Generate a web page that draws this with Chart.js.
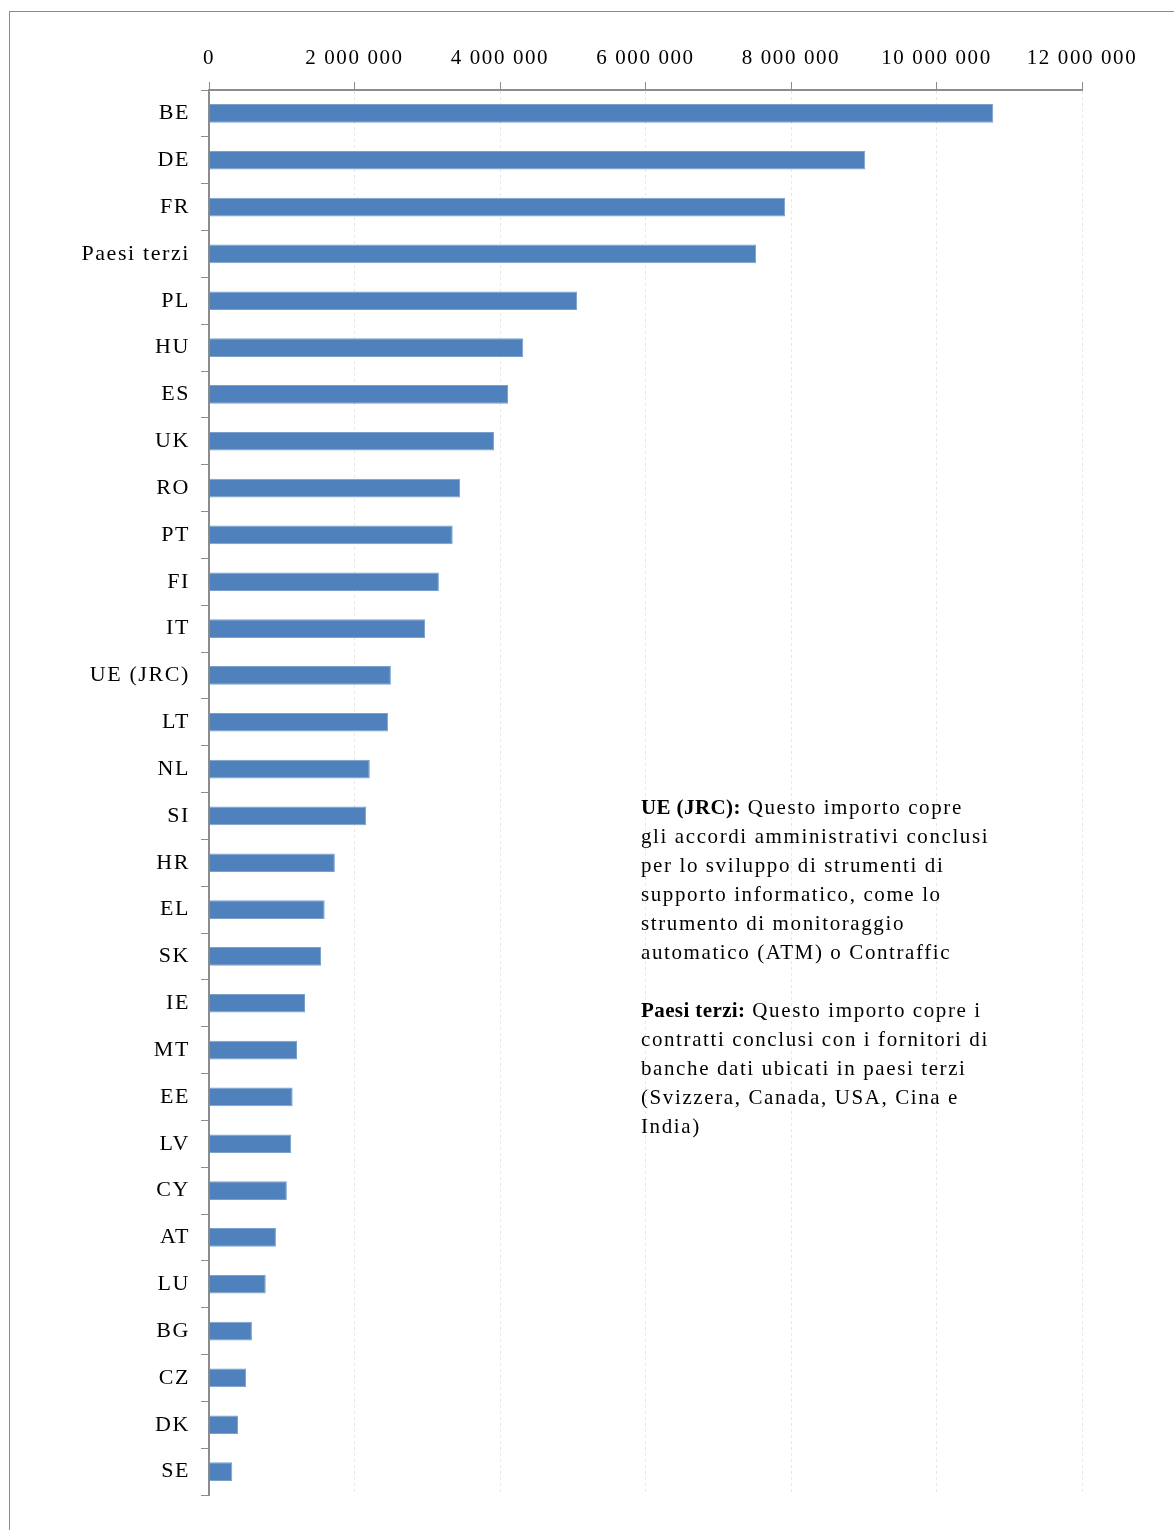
<!DOCTYPE html>
<html>
<head>
<meta charset="utf-8">
<script src="https://cdn.jsdelivr.net/npm/chart.js@4.4.1/dist/chart.umd.min.js"></script>
<style>
  html, body { margin: 0; padding: 0; background: #fff; overflow: hidden; }
  .frame {
    position: absolute; left: 9px; top: 11px; width: 1300px; height: 1700px;
    border: 1px solid #8c8c8c; box-sizing: border-box;
  }
  .chart-box { position: absolute; left: 0; top: 0; width: 1174px; height: 1530px; }
  .note {
    position: absolute; left: 641px; top: 793px; width: 400px;
    font-family: "Liberation Serif", "Times New Roman", serif;
    font-size: 21px; line-height: 29px; color: #000; letter-spacing: 1.6px;
  }
  .note b { letter-spacing: 0.4px; }
  .note p { margin: 0 0 29px 0; }
</style>
</head>
<body>
<div class="frame"></div>
<div class="chart-box"><canvas id="costChart" width="1174" height="1530"></canvas></div>
<div class="note">
  <p><b>UE (JRC):</b> Questo importo copre<br>gli accordi amministrativi conclusi<br>per lo sviluppo di strumenti di<br>supporto informatico, come lo<br>strumento di monitoraggio<br>automatico (ATM) o Contraffic</p>
  <p><b>Paesi terzi:</b> Questo importo copre i<br>contratti conclusi con i fornitori di<br>banche dati ubicati in paesi terzi<br>(Svizzera, Canada, USA, Cina e<br>India)</p>
</div>
<script>
// Categories (top to bottom)
const countries = ['BE', 'DE', 'FR', 'Paesi terzi', 'PL', 'HU', 'ES', 'UK', 'RO', 'PT',
  'FI', 'IT', 'UE (JRC)', 'LT', 'NL', 'SI', 'HR', 'EL', 'SK', 'IE',
  'MT', 'EE', 'LV', 'CY', 'AT', 'LU', 'BG', 'CZ', 'DK', 'SE'];

// Amounts (EUR)
const amounts = [10780000, 9020000, 7920000, 7520000, 5060000, 4320000, 4110000, 3920000, 3450000, 3350000,
  3160000, 2970000, 2500000, 2460000, 2210000, 2160000, 1730000, 1590000, 1540000, 1320000,
  1210000, 1150000, 1130000, 1070000, 920000, 780000, 590000, 510000, 400000, 320000];

// Axis ticks
const xTicks = [0, 2000000, 4000000, 6000000, 8000000, 10000000, 12000000];

function formatNumber(v) {
  return String(v).replace(/\B(?=(\d{3})+(?!\d))/g, ' ');
}

const serif = '"Liberation Serif", "Times New Roman", serif';

// The original text is rendered a bit wider, add some letter spacing
const spacingPlugin = {
  id: 'spacing',
  beforeDraw: function(chart) {
    chart.ctx.letterSpacing = '1.6px';
  }
};

document.addEventListener('DOMContentLoaded', function() {
  const ctx = document.getElementById('costChart').getContext('2d');

  new Chart(ctx, {
    type: 'bar',
    data: {
      labels: countries,
      datasets: [{
        data: amounts,
        backgroundColor: '#4f81bd',
        borderColor: '#7aa0cc',
        borderWidth: 1,
        barPercentage: 0.4,
        categoryPercentage: 1
      }]
    },
    plugins: [spacingPlugin],
    options: {
      indexAxis: 'y',
      responsive: false,
      animation: false,
      layout: {
        padding: { left: 0, top: 0, right: 92, bottom: 35 }
      },
      plugins: {
        legend: { display: false },
        tooltip: { enabled: false }
      },
      scales: {
        x: {
          position: 'top',
          min: 0,
          max: 12000000,
          afterBuildTicks: function(scale) {
            scale.ticks = xTicks.map(function(v) { return { value: v }; });
          },
          afterFit: function(scale) {
            scale.height = 90;
          },
          grid: {
            color: '#ebe7da',
            lineWidth: 1,
            drawTicks: true,
            tickLength: 8,
            tickColor: '#8c8c8c',
            tickBorderDash: []
          },
          border: {
            display: true,
            color: '#8c8c8c',
            width: 2,
            dash: [3, 3]
          },
          ticks: {
            color: '#000',
            padding: 11,
            maxRotation: 0,
            font: { family: serif, size: 21 },
            callback: function(value) { return formatNumber(value); }
          }
        },
        y: {
          afterFit: function(scale) {
            scale.width = 209;
          },
          grid: {
            offset: true,
            drawOnChartArea: false,
            drawTicks: true,
            tickLength: 8,
            tickColor: '#8c8c8c',
            color: '#8c8c8c'
          },
          border: {
            display: true,
            color: '#8c8c8c',
            width: 2
          },
          ticks: {
            color: '#000',
            padding: 11,
            autoSkip: false,
            font: { family: serif, size: 22 }
          }
        }
      }
    }
  });
});
</script>
</body>
</html>
